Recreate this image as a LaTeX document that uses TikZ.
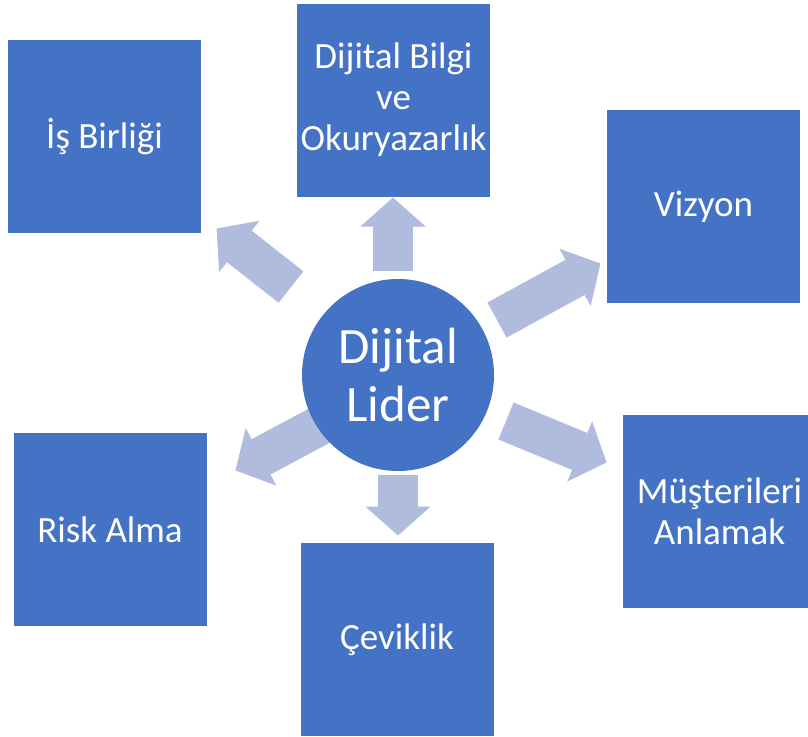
\documentclass[tikz,border=0pt]{standalone}
\usepackage{fontspec}
\setmainfont{Carlito}
\usepackage{tikz}
\usetikzlibrary{arrows.meta}
\definecolor{boxblue}{HTML}{4472C4}
\definecolor{arrowblue}{HTML}{B0BCDE}

\begin{document}
\begin{tikzpicture}[x=1pt,y=-1pt,
    kutu/.style={fill=boxblue,text=white,minimum size=193pt,inner sep=0pt,align=center,
      font=\fontsize{37}{41}\selectfont},
    ok/.style={draw=arrowblue,line width=40pt,
      -{Triangle[length=29pt,width=65pt,line width=1pt]}}]
        \clip (0,0) rectangle (808,736);
        %% arrow ends
        \coordinate (bilgi-a) at (393,271);
        \coordinate (bilgi-b) at (393,197.5);
        \coordinate (cevik-a) at (398,475);
        \coordinate (cevik-b) at (398,535.5);
        \coordinate (is-a) at (291,287);
        \coordinate (is-b) at (216.5,228.5);
        \coordinate (vizyon-a) at (497,320);
        \coordinate (vizyon-b) at (600.5,263.5);
        \coordinate (risk-a) at (330,420);
        \coordinate (risk-b) at (235.5,470.5);
        \coordinate (must-a) at (506,421);
        \coordinate (must-b) at (606.5,462.5);
        \draw[ok] (bilgi-a) -- (bilgi-b);
        \draw[ok] (cevik-a) -- (cevik-b);
        \draw[ok] (is-a) -- (is-b);
        \draw[ok] (vizyon-a) -- (vizyon-b);
        \draw[ok] (risk-a) -- (risk-b);
        \draw[ok] (must-a) -- (must-b);
        %% center
        \node[circle,fill=boxblue,text=white,minimum size=192pt,inner sep=0pt,align=center,
          font=\fontsize{51}{58}\selectfont] (lider) at (398,375) {Dijital\\Lider};
        %% boxes
        \node[kutu] (is) at (104.5,136.5) {İş Birliği};
        \node[kutu] (bilgi) at (393.5,100) {Dijital Bilgi\\ve\\Okuryazarlık};
        \node[kutu] (vizyon) at (703.5,206.5) {Vizyon};
        \node[kutu] (must) at (719.5,511) {Müşterileri\\Anlamak};
        \node[kutu] (cevik) at (397,639.5) {Çeviklik};
        \node[kutu] (risk) at (110,529.5) {Risk Alma};
\end{tikzpicture}
\end{document}
